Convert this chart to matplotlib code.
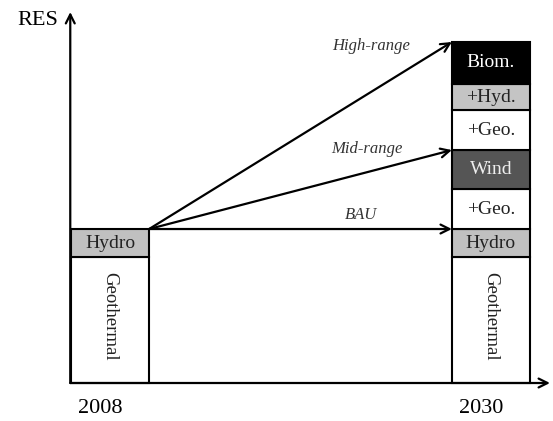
import matplotlib.pyplot as plt

plt.rcParams['font.family'] = ['Liberation Serif', 'DejaVu Serif']

# ---------------------------------------------------------
# Data (schematic units)
# ---------------------------------------------------------
years = ['2008', '2030']
year_pos = [0, 1]

seg_2008 = ['Geothermal', 'Hydro']
val_2008 = [4.5, 1.0]

seg_2030 = ['Geothermal', 'Hydro', '+Geo.', 'Wind', '+Geo.', '+Hyd.', 'Biom.']
val_2030 = [4.5, 1.0, 1.43, 1.39, 1.43, 0.93, 1.5]

scenarios = ['BAU', 'Mid-range', 'High-range']
scenario_top_seg = [2, 4, 7]   # number of 2030 segments each scenario reaches

colors = {'Geothermal': 'white', 'Hydro': '#c0c0c0', '+Geo.': 'white',
          'Wind': '#555555', '+Hyd.': '#c4c4c4', 'Biom.': 'black'}
text_colors = {'Wind': '#eeeeee', 'Biom.': 'white'}

bar_w = 0.205

fig = plt.figure(figsize=(5.53, 4.21), dpi=100)
ax = fig.add_axes([0, 0, 1, 1])
ax.set_xlim(-0.289, 1.163)
ax.set_ylim(-1.357, 13.68)
ax.axis('off')


def draw_stack(x, names, vals):
    bottom = 0
    for name, v in zip(names, vals):
        ax.bar(x, v, width=bar_w, bottom=bottom, color=colors[name],
               edgecolor='black', linewidth=1.5, zorder=2)
        if name == 'Geothermal':
            ax.text(x, bottom + v * 0.53, name, rotation=-90,
                    ha='center', va='center', fontsize=13.5, color='#222222')
        else:
            ax.text(x, bottom + v / 2, name, ha='center', va='center',
                    fontsize=14, color=text_colors.get(name, '#222222'))
        bottom += v


draw_stack(year_pos[0], seg_2008, val_2008)
draw_stack(year_pos[1], seg_2030, val_2030)

# axes arrows
x0 = year_pos[0] - bar_w / 2 - 0.002
arrow = dict(arrowstyle='->', lw=1.6, color='black', mutation_scale=16,
             shrinkA=0, shrinkB=0)
ax.annotate('', xy=(x0, 13.25), xytext=(x0, 0), arrowprops=arrow, zorder=3)
ax.annotate('', xy=(1.155, 0), xytext=(x0, 0), arrowprops=arrow, zorder=3)
ax.text(-0.137, 12.95, 'RES', ha='right', va='center', fontsize=16)

for x, y in zip(year_pos, years):
    ax.text(x - 0.025, -0.9, y, ha='center', va='center', fontsize=16)

# scenario arrows
start = (year_pos[0] + bar_w / 2, sum(val_2008))
label_pos = [(0.66, 6.0), (0.675, 8.35), (0.685, 12.05)]
for name, n, (lx, ly) in zip(scenarios, scenario_top_seg, label_pos):
    end = (year_pos[1] - bar_w / 2, sum(val_2030[:n]))
    ax.annotate('', xy=end, xytext=start, arrowprops=arrow, zorder=3)
    ax.text(lx, ly, name, ha='center', va='center', fontsize=12,
            style='italic', color='#333333')

plt.savefig('out.png', dpi=100)
plt.close()
